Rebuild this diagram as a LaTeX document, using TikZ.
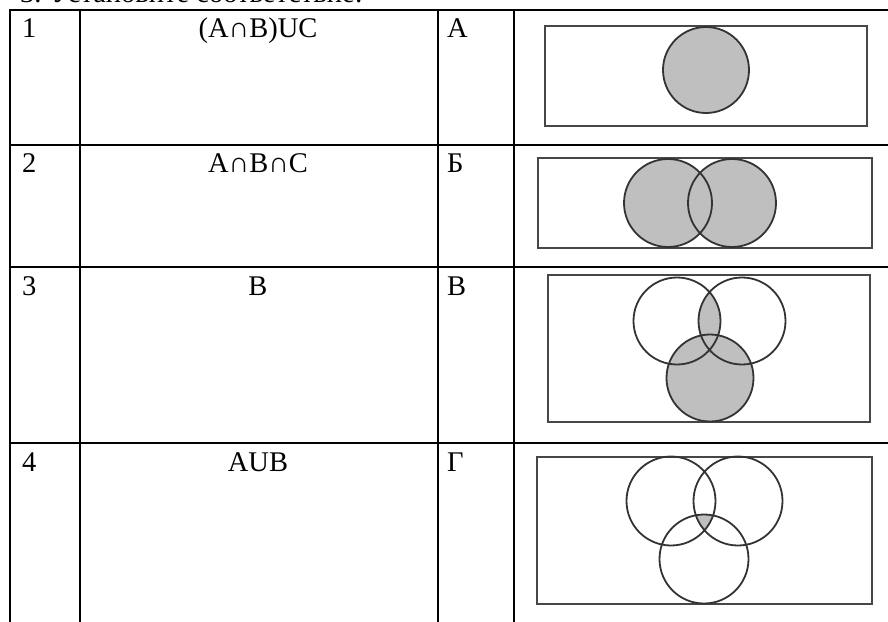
\documentclass[tikz,border=0pt]{standalone}
\usepackage{fontspec}
\setmainfont{Liberation Serif}

\begin{document}
\begin{tikzpicture}[x=1pt,y=-1pt,
	grid/.style={line width=2.6pt,line cap=rect},
	cell/.style={inner sep=0pt,font=\fontsize{28.5}{33}\selectfont},
	num/.style={cell,anchor=base west},
	expr/.style={cell,anchor=base},
	frame/.style={draw=black!72,line width=1.4pt},
	venn/.style={draw=black!80,line width=1.8pt},
	part/.style={fill=black!25}]
	\useasboundingbox (0,0) rectangle (888,621);
	
	% heading, cut by the page edge
	\node[num] (title) at (20,2.2) {3. Установите соответствие:};
	
	% table
	\draw[grid] (10,10) -- (890,10);
	\draw[grid] (10,145) -- (890,145);
	\draw[grid] (10,267) -- (890,267);
	\draw[grid] (10,443) -- (890,443);
	\draw[grid] (10,10) -- (10,625);
	\draw[grid] (80,10) -- (80,625);
	\draw[grid] (438,10) -- (438,625);
	\draw[grid] (514,10) -- (514,625);
	
	\node[num] (n1) at (22,37) {1};
	\node[expr] (e1) at (258,37) {(A∩B)UC};
	\node[num] (l1) at (447,37) {А};
	
	\node[num] (n2) at (22,172) {2};
	\node[expr] (e2) at (258,172) {A∩B∩C};
	\node[num] (l2) at (447,172) {Б};
	
	\node[num] (n3) at (22,295) {3};
	\node[expr] (e3) at (258,295) {B};
	\node[num] (l3) at (447,295) {В};
	
	\node[num] (n4) at (22,471) {4};
	\node[expr] (e4) at (258,471) {AUB};
	\node[num] (l4) at (447,471) {Г};
	
	% А
	\draw[frame] (545,26) rectangle (867,126);
	\filldraw[venn,part] (706,70) circle (43);
	
	% Б
	\draw[frame] (538,158) rectangle (872,248);
	\fill[part] (668,203) circle (44) (732,203) circle (44);
	\draw[venn] (668,203) circle (44) (732,203) circle (44);
	
	% В
	\draw[frame] (548,275) rectangle (870,422);
	\fill[part] (710,378) circle (43.5);
	\begin{scope}
		\clip (677,321) circle (43.5);
		\fill[part] (742,321) circle (43.5);
	\end{scope}
	\draw[venn] (677,321) circle (43.5) (742,321) circle (43.5) (710,378) circle (43.5);
	
	% Г
	\draw[frame] (537,457) rectangle (872,604);
	\begin{scope}
		\clip (671,501) circle (44.5);
		\clip (738,501) circle (44.5);
		\fill[part] (704,559) circle (44.5);
	\end{scope}
	\draw[venn] (671,501) circle (44.5) (738,501) circle (44.5) (704,559) circle (44.5);
\end{tikzpicture}
\end{document}
